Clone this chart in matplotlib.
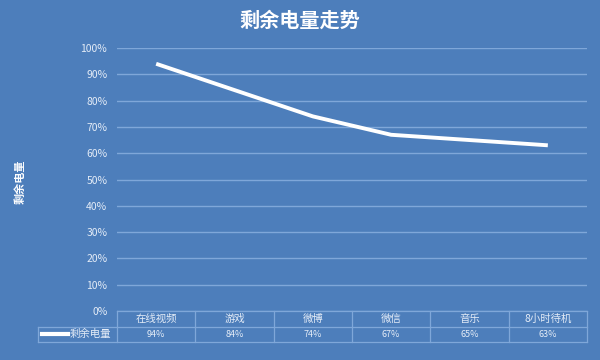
import matplotlib
matplotlib.use("Agg")
import matplotlib.pyplot as plt
from matplotlib.lines import Line2D

plt.rcParams['font.family'] = ['Noto Sans CJK SC', 'DejaVu Sans']

categories = ["在线视频", "游戏", "微博", "微信", "音乐", "8小时待机"]
values = [94, 84, 74, 67, 65, 63]
series_name = "剩余电量"
title = "剩余电量走势"
yticks = [0, 10, 20, 30, 40, 50, 60, 70, 80, 90, 100]

BG = "#4d7ebb"
GRID = "#7fa7d9"
TXT = "#e4ecf7"

fig = plt.figure(figsize=(6, 3.6), dpi=100, facecolor=BG)
ax = fig.add_axes([117/600, 1-311/360, 470/600, 263/360])
ax.set_facecolor(BG)

x = list(range(len(categories)))
ax.plot(x, values, color="white", lw=2.8, solid_capstyle="butt")
ax.set_xlim(-0.5, len(categories) - 0.5)
ax.set_ylim(0, 100)
ax.set_yticks(yticks)
ax.set_yticklabels([f"{t}%" for t in yticks], color=TXT, fontsize=7.5)
ax.tick_params(axis="y", length=0, pad=7)
ax.set_xticks([])
for s in ax.spines.values():
    s.set_visible(False)
ax.grid(axis="y", color=GRID, lw=1)
ax.set_axisbelow(True)

fig.text(0.5, 1-20/360, title, ha="center", va="center", color="white",
         fontsize=14.5, fontweight="bold")
fig.text(20/600, 1-182/360, series_name, rotation=90, ha="center", va="center",
         color="white", fontsize=8, fontweight="bold")

# data table
row_h = 15.5 / 263
tr = ax.transAxes
ncol = len(categories)
top = 0.0
mid = -row_h
bot = -2 * row_h
lw = 0.9
ax.add_line(Line2D([0, 1], [top, top], transform=tr, color=GRID, lw=lw, clip_on=False))
leg_left = (38 - 117) / 470
ax.add_line(Line2D([leg_left, 1], [mid, mid], transform=tr, color=GRID, lw=lw, clip_on=False))
ax.add_line(Line2D([leg_left, 1], [bot, bot], transform=tr, color=GRID, lw=lw, clip_on=False))
for i in range(ncol + 1):
    xv = i / ncol
    ax.add_line(Line2D([xv, xv], [top, bot], transform=tr, color=GRID, lw=lw, clip_on=False))
ax.add_line(Line2D([leg_left, leg_left], [mid, bot], transform=tr, color=GRID, lw=lw, clip_on=False))

for i, (c, v) in enumerate(zip(categories, values)):
    xc = (i + 0.5) / ncol
    ax.text(xc, (top + mid) / 2, c, transform=tr, ha="center", va="center",
            color=TXT, fontsize=7.5, clip_on=False)
    ax.text(xc, (mid + bot) / 2, f"{v}%", transform=tr, ha="center", va="center",
            color=TXT, fontsize=6.5, clip_on=False)

ax.add_line(Line2D([(42 - 117) / 470, (68 - 117) / 470], [(mid + bot) / 2] * 2,
                   transform=tr, color="white", lw=3, clip_on=False))
ax.text((70 - 117) / 470, (mid + bot) / 2, series_name, transform=tr, ha="left",
        va="center", color=TXT, fontsize=7.5, clip_on=False)

fig.savefig("out.png", dpi=100, facecolor=BG)
